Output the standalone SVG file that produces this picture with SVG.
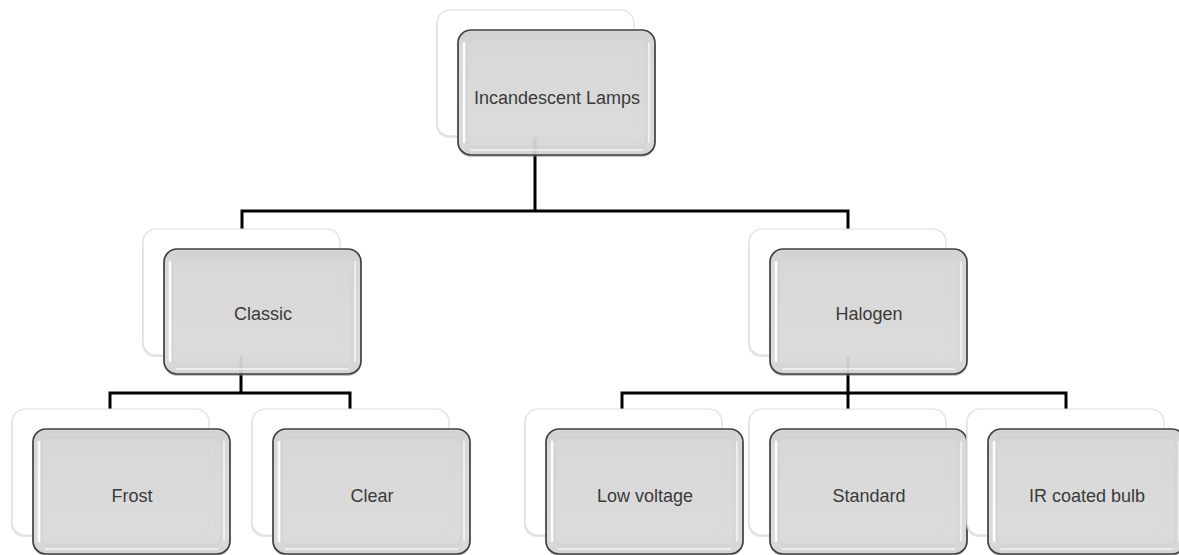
<svg xmlns="http://www.w3.org/2000/svg" width="1179" height="555" viewBox="0 0 1179 555">
<style>
.back{fill:#ffffff;stroke:#dedede;stroke-width:1.2}
.backsh{fill:#d4d4d4;opacity:0.6}
.frontsh{fill:#7a7a7a;opacity:0.45}
.front{fill:url(#fg);fill-opacity:0.9;stroke:#404040;stroke-width:1.7}
.hl{fill:none;stroke:#ffffff;stroke-opacity:0.9;stroke-width:2.5;stroke-linecap:round}
.hl2{fill:none;stroke:#ffffff;stroke-opacity:0.55;stroke-width:2;stroke-linecap:round}
.inner{fill:none;stroke:#c8c8c8;stroke-opacity:0.5;stroke-width:1}
.lbl{font-family:"Liberation Sans",Arial,sans-serif;font-size:18px;fill:#3a3a3a;text-anchor:middle}
.conn{fill:none;stroke:#000000;stroke-width:3;stroke-linecap:butt;stroke-linejoin:miter}
</style>
<defs>
<linearGradient id="fg" x1="0" y1="0" x2="0" y2="1">
<stop offset="0" stop-color="#d2d2d2"/>
<stop offset="0.12" stop-color="#dadada"/>
<stop offset="0.85" stop-color="#dedede"/>
<stop offset="1" stop-color="#d6d6d6"/>
</linearGradient>
<g id="card">
<rect class="backsh" x="-1" y="2" width="197" height="126" rx="13"/>
<rect class="back" x="0" y="0" width="197" height="126" rx="13"/>
<rect class="frontsh" x="21" y="22" width="197" height="125" rx="13"/>
<rect class="front" x="21" y="20" width="197" height="125" rx="13"/>
<rect class="inner" x="30" y="28" width="179" height="109" rx="7"/>
<path class="hl" d="M27,33 V132"/>
<path class="hl2" d="M212,33 V132"/>
<path class="hl2" d="M34,140 H205"/>
</g>
</defs>
<rect width="1179" height="555" fill="#ffffff"/>
<g id="connectors">
<path class="conn" d="M535,100 V211 M242,211 H848 M242,209.5 V229 M848,209.5 V229"/>
<path class="conn" d="M241,300 V393 M110,393 H350 M110,391.5 V409 M350,391.5 V409"/>
<path class="conn" d="M848,300 V393 M622,393 H1066 M622,391.5 V409 M848,391.5 V409 M1066,391.5 V409"/>
</g>
<g id="node-incandescent" transform="translate(437,10)">
<use href="#card"/>
<text class="lbl" x="120" y="94">Incandescent Lamps</text>
</g>
<g id="node-classic" transform="translate(143,229)">
<use href="#card"/>
<text class="lbl" x="120" y="91">Classic</text>
</g>
<g id="node-halogen" transform="translate(749,229)">
<use href="#card"/>
<text class="lbl" x="120" y="91">Halogen</text>
</g>
<g id="node-frost" transform="translate(12,409)">
<use href="#card"/>
<text class="lbl" x="120" y="93">Frost</text>
</g>
<g id="node-clear" transform="translate(252,409)">
<use href="#card"/>
<text class="lbl" x="120" y="93">Clear</text>
</g>
<g id="node-lowvoltage" transform="translate(525,409)">
<use href="#card"/>
<text class="lbl" x="120" y="93">Low voltage</text>
</g>
<g id="node-standard" transform="translate(749,409)">
<use href="#card"/>
<text class="lbl" x="120" y="93">Standard</text>
</g>
<g id="node-ir" transform="translate(967,409)">
<use href="#card"/>
<text class="lbl" x="120" y="93">IR coated bulb</text>
</g>
</svg>
